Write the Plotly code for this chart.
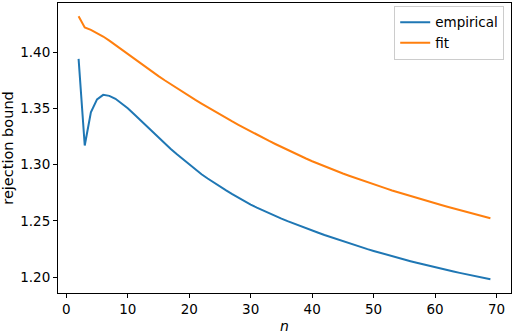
import plotly.graph_objects as go

# n values and the two curves
n_values = list(range(2, 70))

empirical = [
    1.3940, 1.3170, 1.3465, 1.3580, 1.3620, 1.3611, 1.3585, 1.3547, 1.3501, 1.3450,
    1.3397, 1.3345, 1.3291, 1.3239, 1.3188, 1.3139, 1.3091, 1.3045, 1.3000, 1.2956,
    1.2914, 1.2876, 1.2839, 1.2804, 1.2770, 1.2737, 1.2705, 1.2674, 1.2644, 1.2617,
    1.2591, 1.2566, 1.2542, 1.2519, 1.2497, 1.2475, 1.2454, 1.2434, 1.2414, 1.2394,
    1.2374, 1.2355, 1.2336, 1.2318, 1.2300, 1.2282, 1.2265, 1.2248, 1.2232, 1.2216,
    1.2200, 1.2185, 1.2170, 1.2155, 1.2141, 1.2127, 1.2113, 1.2100, 1.2087, 1.2074,
    1.2061, 1.2049, 1.2037, 1.2025, 1.2013, 1.2002, 1.1991, 1.1980,
]

fit = [
    1.4320, 1.4220, 1.4198, 1.4171, 1.4139, 1.4102, 1.4062, 1.4021, 1.3980, 1.3940,
    1.3901, 1.3862, 1.3824, 1.3787, 1.3750, 1.3714, 1.3679, 1.3644, 1.3610, 1.3576,
    1.3543, 1.3510, 1.3478, 1.3446, 1.3415, 1.3384, 1.3354, 1.3324, 1.3295, 1.3266,
    1.3238, 1.3210, 1.3183, 1.3156, 1.3130, 1.3104, 1.3079, 1.3054, 1.3030, 1.3007,
    1.2985, 1.2963, 1.2942, 1.2921, 1.2901, 1.2881, 1.2862, 1.2843, 1.2824, 1.2806,
    1.2788, 1.2770, 1.2753, 1.2736, 1.2719, 1.2703, 1.2687, 1.2671, 1.2655, 1.2640,
    1.2625, 1.2610, 1.2595, 1.2580, 1.2565, 1.2551, 1.2537, 1.2523,
]

x_ticks = [0, 10, 20, 30, 40, 50, 60, 70]
y_ticks = [1.20, 1.25, 1.30, 1.35, 1.40]

fig = go.Figure()

fig.add_trace(go.Scatter(
    x=n_values, y=empirical, mode='lines', name='empirical',
    line=dict(color='#1f77b4', width=2)
))

fig.add_trace(go.Scatter(
    x=n_values, y=fit, mode='lines', name='fit',
    line=dict(color='#ff7f0e', width=2)
))

axis_style = dict(
    showline=True, linecolor='black', linewidth=1, mirror=True,
    showgrid=False, zeroline=False,
    ticks='outside', ticklen=4, tickwidth=1, tickcolor='black',
    tickfont=dict(family='DejaVu Sans', size=13.5, color='black'),
)

fig.update_layout(
    width=514, height=334,
    paper_bgcolor='white', plot_bgcolor='white',
    margin=dict(l=58, r=2, t=2, b=37),
    font=dict(family='DejaVu Sans', size=13.5, color='black'),
    xaxis=dict(
        range=[-1.35, 72.35], tickvals=x_ticks,
        title=dict(text='<i>n</i>', standoff=5,
                   font=dict(family='DejaVu Sans', size=14)),
        **axis_style
    ),
    yaxis=dict(
        range=[1.1858, 1.4437], tickvals=y_ticks, tickformat='.2f',
        title=dict(text='rejection bound', standoff=5,
                   font=dict(family='DejaVu Sans', size=14.5)),
        **axis_style
    ),
    legend=dict(
        x=0.985, y=0.99, xanchor='right', yanchor='top',
        bgcolor='rgba(255,255,255,0.8)', bordercolor='#cccccc', borderwidth=1,
        font=dict(family='DejaVu Sans', size=13.5, color='black'),
        tracegroupgap=0, itemwidth=30,
    ),
)

# drop the default page margin so the 514x334 figure fills the window
fig.write_html("out.html", config={'displayModeBar': False},
               post_script="document.body.style.margin='0';")
